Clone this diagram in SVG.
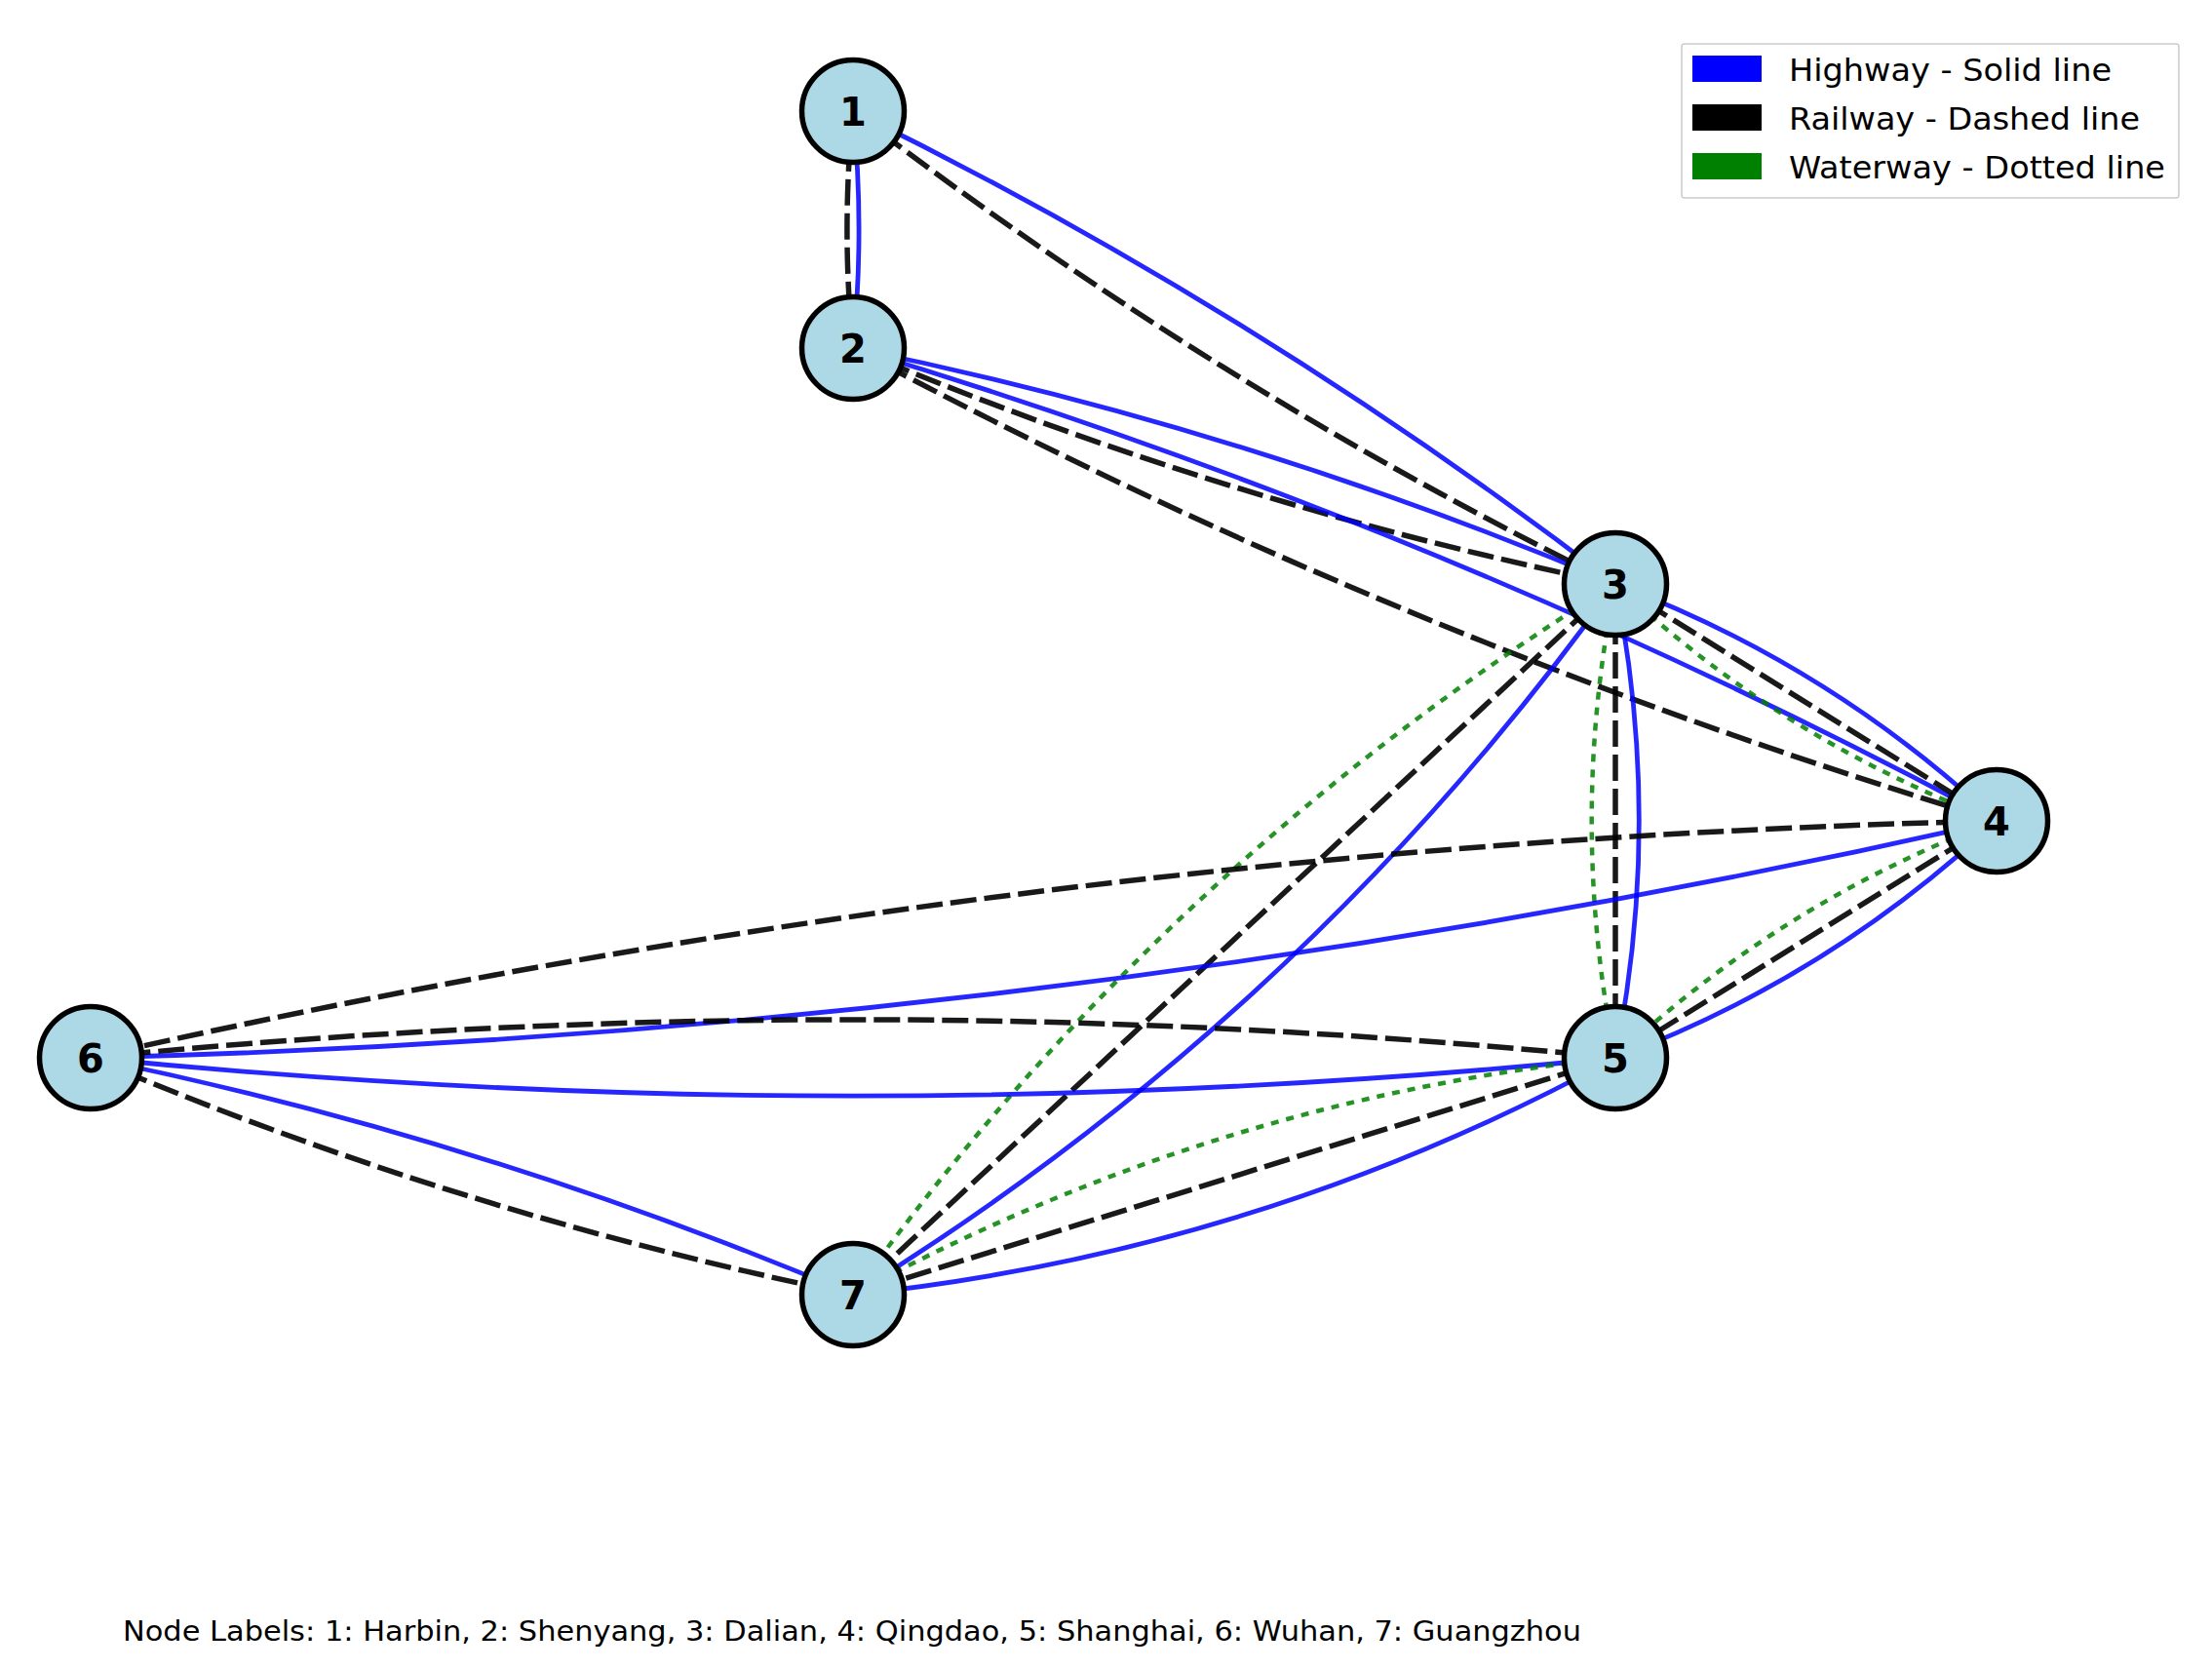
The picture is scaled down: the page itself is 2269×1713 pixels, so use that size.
<svg xmlns="http://www.w3.org/2000/svg" width="2269" height="1713" viewBox="0 0 2269 1713">
<style>
.hw{fill:none;stroke:#0000ff;stroke-opacity:0.85;stroke-width:4.8}
.rw{fill:none;stroke:#000000;stroke-opacity:0.9;stroke-width:5.5;stroke-dasharray:27 8}
.ww{fill:none;stroke:#008000;stroke-opacity:0.85;stroke-width:4.5;stroke-dasharray:8 8}
.node circle{fill:#add8e6;stroke:#000000;stroke-width:5.5}
.node text{font-family:"DejaVu Sans",sans-serif;font-weight:bold;font-size:40px;text-anchor:middle;fill:#000}
.lg{font-family:"DejaVu Sans",sans-serif;font-size:32px;fill:#000}
</style>
<rect width="2269" height="1713" fill="#ffffff"/>
<g id="connectors">
<path class="hw" d="M875,114 Q887.15,235.5 875,357"/>
<path class="rw" d="M875,114 Q862.85,235.5 875,357"/>
<path class="hw" d="M875,114 Q1290.25,317.4 1657,599"/>
<path class="rw" d="M875,114 Q1241.75,395.6 1657,599"/>
<path class="hw" d="M875,357 Q1278.1,438.9 1657,599"/>
<path class="rw" d="M875,357 Q1253.9,517.1 1657,599"/>
<path class="hw" d="M875,357 Q1485.75,540.85 2048,842"/>
<path class="rw" d="M875,357 Q1437.25,658.15 2048,842"/>
<path class="hw" d="M1657,599 Q1876.8,681.4 2048,842"/>
<path class="rw" d="M1657,599 L2048,842"/>
<path class="ww" d="M1657,599 Q1828.2,759.6 2048,842"/>
<path class="hw" d="M1657,599 Q1705.6,842 1657,1085"/>
<path class="rw" d="M1657,599 L1657,1085"/>
<path class="ww" d="M1657,599 Q1608.4,842 1657,1085"/>
<path class="hw" d="M1657,599 Q1338.9,1041.7 875,1328"/>
<path class="rw" d="M1657,599 L875,1328"/>
<path class="ww" d="M1657,599 Q1193.1,885.3 875,1328"/>
<path class="hw" d="M2048,842 Q1876.8,1002.6 1657,1085"/>
<path class="rw" d="M2048,842 L1657,1085"/>
<path class="ww" d="M2048,842 Q1828.2,924.4 1657,1085"/>
<path class="hw" d="M2048,842 Q1082.65,1061.25 93,1085"/>
<path class="rw" d="M2048,842 Q1058.35,865.75 93,1085"/>
<path class="hw" d="M1657,1085 Q875,1163.2 93,1085"/>
<path class="rw" d="M1657,1085 Q875,1006.8 93,1085"/>
<path class="hw" d="M1657,1085 Q1290.3,1284.7 875,1328"/>
<path class="rw" d="M1657,1085 L875,1328"/>
<path class="ww" d="M1657,1085 Q1241.7,1128.3 875,1328"/>
<path class="hw" d="M93,1085 Q496.15,1167.4 875,1328"/>
<path class="rw" d="M93,1085 Q471.85,1245.6 875,1328"/>
</g>
<g id="node1" class="node"><circle cx="875" cy="114" r="52.5"/><text x="875" y="128.5">1</text></g>
<g id="node2" class="node"><circle cx="875" cy="357" r="52.5"/><text x="875" y="371.5">2</text></g>
<g id="node3" class="node"><circle cx="1657" cy="599" r="52.5"/><text x="1657" y="613.5">3</text></g>
<g id="node4" class="node"><circle cx="2048" cy="842" r="52.5"/><text x="2048" y="856.5">4</text></g>
<g id="node5" class="node"><circle cx="1657" cy="1085" r="52.5"/><text x="1657" y="1099.5">5</text></g>
<g id="node6" class="node"><circle cx="93" cy="1085" r="52.5"/><text x="93" y="1099.5">6</text></g>
<g id="node7" class="node"><circle cx="875" cy="1328" r="52.5"/><text x="875" y="1342.5">7</text></g>
<g id="legend">
<rect x="1725" y="45" width="510" height="158" rx="3" fill="#ffffff" fill-opacity="0.8" stroke="#cccccc" stroke-width="1.5"/>
<rect x="1736" y="57" width="71" height="27" fill="#0000ff"/>
<rect x="1736" y="107" width="71" height="27" fill="#000000"/>
<rect x="1736" y="157" width="71" height="27" fill="#008000"/>
<text class="lg" x="1835" y="83" textLength="331" lengthAdjust="spacingAndGlyphs">Highway - Solid line</text>
<text class="lg" x="1835" y="133" textLength="360" lengthAdjust="spacingAndGlyphs">Railway - Dashed line</text>
<text class="lg" x="1835" y="183" textLength="386" lengthAdjust="spacingAndGlyphs">Waterway - Dotted line</text>
</g>
<text id="caption" x="126" y="1683" font-family="DejaVu Sans, sans-serif" font-size="28" fill="#000" textLength="1496" lengthAdjust="spacingAndGlyphs">Node Labels: 1: Harbin, 2: Shenyang, 3: Dalian, 4: Qingdao, 5: Shanghai, 6: Wuhan, 7: Guangzhou</text>
</svg>
